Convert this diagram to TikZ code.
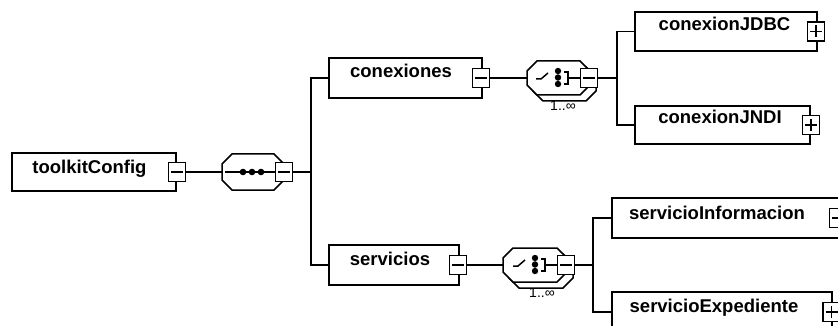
\documentclass[tikz,border=0pt]{standalone}
\usepackage{fontspec}
\setmainfont{Liberation Sans}
\newcommand\octa[4]{({#1+10},{#2}) -- ({#3-10},{#2}) -- ({#3},{#2+10}) -- ({#3},{#4-10}) -- ({#3-10},{#4}) -- ({#1+10},{#4}) -- ({#1},{#4-10}) -- ({#1},{#2+10}) -- cycle}
\begin{document}
\begin{tikzpicture}[x=1pt,y=-1pt,
  conn/.style={line width=1.5pt},
  elem/.style={draw, fill=white, line width=1.5pt, inner sep=0pt, outer sep=0pt, anchor=north west},
  tog/.style={draw, fill=white, line width=1.3pt, minimum width=17pt, minimum height=19pt, inner sep=0pt, outer sep=0pt},
  tminus/.style={tog, path picture={\draw[line width=1.3pt] ([xshift=-6pt]path picture bounding box.center) -- ([xshift=6pt]path picture bounding box.center);}},
  tplus/.style={tog, path picture={\draw[line width=1.3pt] ([xshift=-6pt]path picture bounding box.center) -- ([xshift=6pt]path picture bounding box.center) ([yshift=-6pt]path picture bounding box.center) -- ([yshift=6pt]path picture bounding box.center);}},
  lbl/.style={anchor=base, inner sep=0pt, font=\bfseries\fontsize{18.5}{22}\selectfont},
  mult/.style={anchor=north, inner sep=0pt, font=\fontsize{14}{16}\selectfont},
  comp/.style={draw, fill=white, line width=1.5pt},
  sym/.style={line width=1.5pt},
]
\useasboundingbox (0,0) rectangle (838,326);
\clip (0,0) rectangle (838,326);

% coordinates
\coordinate (seqL) at (222,172);
\coordinate (bus1) at (311,172);
\coordinate (ch1L) at (527,78);
\coordinate (bus2) at (617,78);
\coordinate (ch2L) at (503,265);
\coordinate (bus3) at (593,265);

% element boxes
\node[elem, minimum width=164pt, minimum height=38pt] (root) at (12,153) {};
\node[elem, minimum width=153pt, minimum height=40pt] (conex) at (329,58) {};
\node[elem, minimum width=130pt, minimum height=40pt] (serv) at (329,245) {};
\node[elem, minimum width=182pt, minimum height=39pt] (jdbc) at (635,12) {};
\node[elem, minimum width=175pt, minimum height=38pt] (jndi) at (635,106) {};
\node[elem, minimum width=227pt, minimum height=40pt] (sinf) at (612,198) {};
\node[elem, minimum width=220pt, minimum height=40pt] (sexp) at (612,292) {};

\node[lbl] (rootL) at (89.5,173) {toolkitConfig};
\node[lbl] (conexL) at (401,78) {conexiones};
\node[lbl] (servL) at (390,265) {servicios};
\node[lbl] (jdbcL) at (724.5,31) {conexionJDBC};
\node[lbl] (jndiL) at (720,124) {conexionJNDI};
\node[lbl] (sinfL) at (717,219) {servicioInformacion};
\node[lbl] (sexpL) at (714,312) {servicioExpediente};

% multiplicity labels
\node[mult] (m1) at (563,101) {1..∞};
\node[mult] (m2) at (542,288) {1..∞};

% compositors
\path[comp] \octa{222}{154}{284}{190};
\draw[sym] (225,172) -- (276,172);
\fill (243,172) circle (3.3) (252,172) circle (3.3) (261,172) circle (3.3);

\path[comp] \octa{533}{67}{596}{101};
\path[comp] \octa{527}{61}{590}{95};
\draw[sym] (536,79) -- (541,79) -- (548,73);
\fill (558,71) circle (3.2) (558,77.5) circle (3.2) (558,84) circle (3.2);
\draw[sym] (564,72) -- (568,72) -- (568,84) -- (564,84) (568,78) -- (581,78);

\path[comp] \octa{509}{254}{573}{288};
\path[comp] \octa{503}{248}{567}{282};
\draw[sym] (513,266) -- (518,266) -- (525,260);
\fill (535,258) circle (3.2) (535,264.5) circle (3.2) (535,271) circle (3.2);
\draw[sym] (541,259) -- (545,259) -- (545,271) -- (541,271) (545,265) -- (558,265);

% toggles
\node[tminus] (rootT) at (177,172) {};
\node[tminus] (seqT) at (284,172) {};
\node[tminus] (conexT) at (481,78) {};
\node[tminus] (ch1T) at (589,78) {};
\node[tminus] (servT) at (458,265) {};
\node[tminus] (ch2T) at (566,265) {};
\node[tplus] (jdbcT) at (816,31.5) {};
\node[tplus] (jndiT) at (811,125) {};
\node[tminus] (sinfT) at (838,218) {};
\node[tplus] (sexpT) at (831.5,312) {};

% connectors
\draw[conn] (rootT.east) -- (seqL);
\draw[conn] (seqT.east) -- (bus1);
\draw[conn] (conex.west) -| (bus1) |- (serv.west);
\draw[conn] (conexT.east) -- (ch1L);
\draw[conn] (ch1T.east) -- (bus2);
\draw[conn] (jdbc.west) -| (bus2) |- (jndi.west);
\draw[conn] (servT.east) -- (ch2L);
\draw[conn] (ch2T.east) -- (bus3);
\draw[conn] (sinf.west) -| (bus3) |- (sexp.west);
\end{tikzpicture}
\end{document}
